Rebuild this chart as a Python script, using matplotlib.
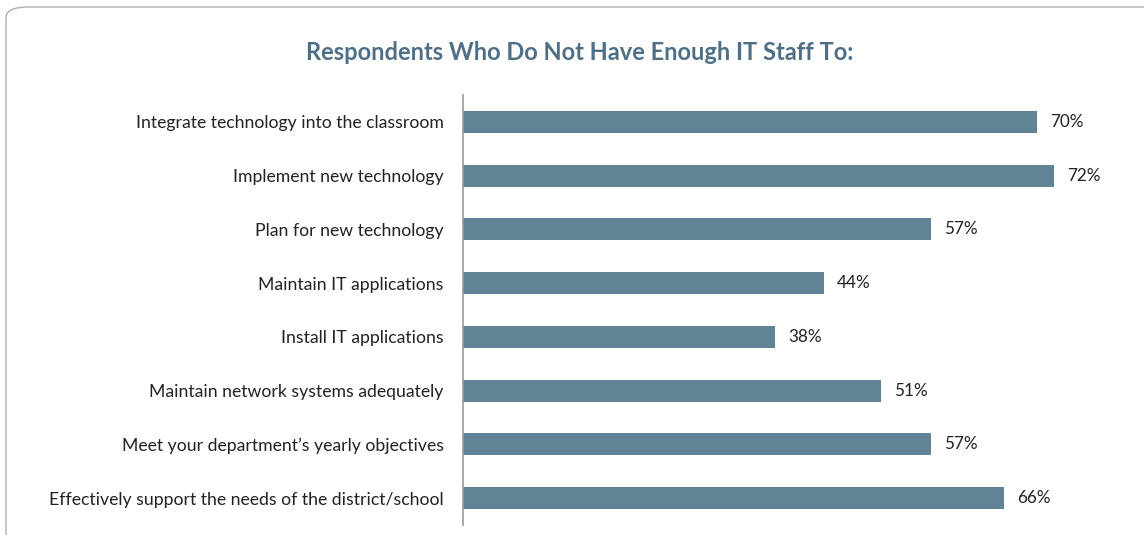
import matplotlib.pyplot as plt
from matplotlib.patches import FancyBboxPatch

categories = [
    "Integrate technology into the classroom",
    "Implement new technology",
    "Plan for new technology",
    "Maintain IT applications",
    "Install IT applications",
    "Maintain network systems adequately",
    "Meet your department\u2019s yearly objectives",
    "Effectively support the needs of the district/school",
]
values = [70, 72, 57, 44, 38, 51, 57, 66]

bar_color = "#618396"
title_color = "#4f6f86"

plt.rcParams['font.family'] = ['Lato', 'DejaVu Sans']

fig = plt.figure(figsize=(11.44, 5.35), dpi=100)

# rounded frame around the whole chart
frame = FancyBboxPatch((6 / 1144, -0.2), 1.2, 1.2 - 7 / 535,
                       boxstyle="round,pad=0,rounding_size=0.02",
                       transform=fig.transFigure, facecolor="none",
                       edgecolor="#b0b0b0", linewidth=1.0, zorder=0)
fig.patches.append(frame)

ax = fig.add_axes([463 / 1144, 10 / 535, (1130 - 463) / 1144, 430 / 535])
ax.set_facecolor("none")

ypos = range(len(categories))
ax.barh(ypos, values, height=0.41, color=bar_color)
for y, v in zip(ypos, values):
    ax.text(v + 1.6, y, f"{v}%", va="center", ha="left", fontsize=12.3, color="#222222")

ax.set_yticks(list(ypos))
ax.set_yticklabels(categories, fontsize=12.7, color="#222222")
ax.set_ylim(7.5, -0.5)
ax.set_xlim(0, 81.3)
ax.tick_params(axis="y", length=0, pad=14)
ax.set_xticks([])
for side in ["top", "right", "bottom"]:
    ax.spines[side].set_visible(False)
ax.spines["left"].set_color("#999999")
ax.spines["left"].set_linewidth(1.2)

fig.text(580 / 1144, 1 - 53 / 535, "Respondents Who Do Not Have Enough IT Staff To:",
         ha="center", va="center", fontsize=17, fontweight="bold", color=title_color)

fig.savefig("out.png", dpi=100)
